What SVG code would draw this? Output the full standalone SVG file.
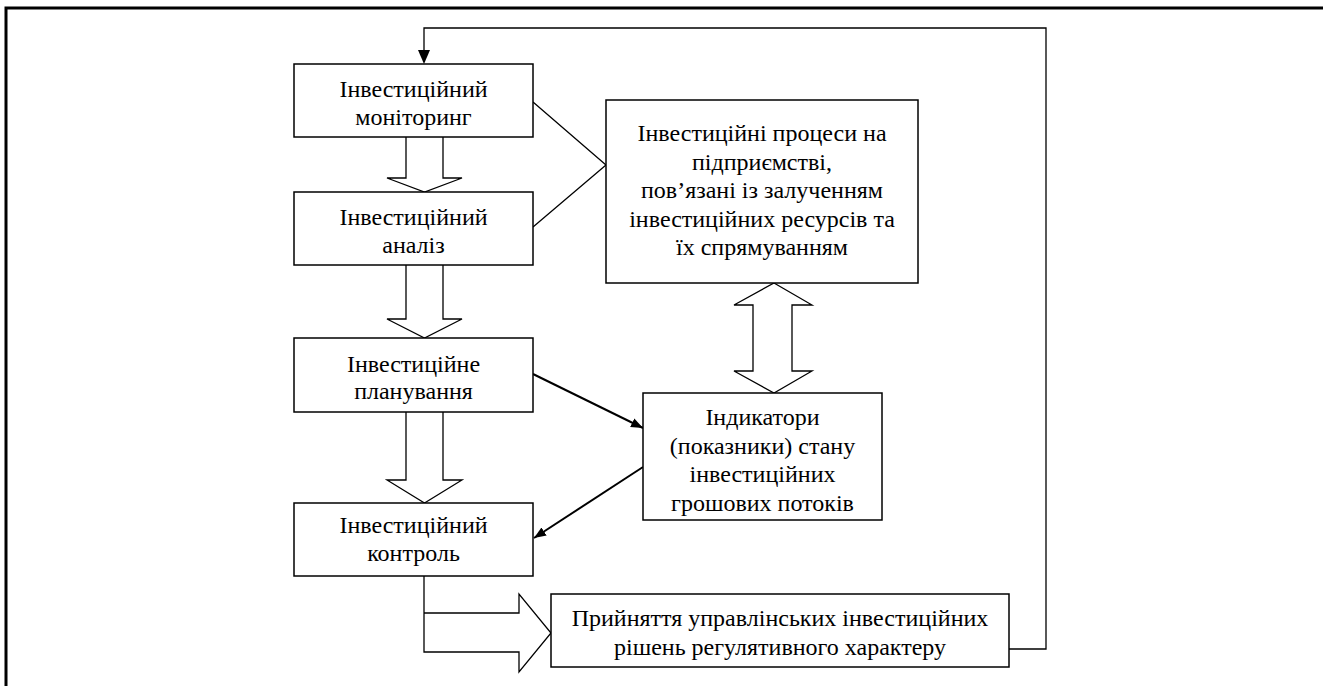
<svg xmlns="http://www.w3.org/2000/svg" width="1323" height="686" viewBox="0 0 1323 686">
<style>
.box{fill:#fff;stroke:#000;stroke-width:1.5}
.t{font-family:'Liberation Serif','Times New Roman','DejaVu Serif','Noto Serif',serif;font-size:24px;fill:#000;text-anchor:middle}
.ln{fill:none;stroke:#000;stroke-width:1.3}
.hol{fill:#fff;stroke:#000;stroke-width:1.3;stroke-linejoin:miter}
.ar{fill:none;stroke:#000;stroke-width:2}
</style>
<defs>
<marker id="ah2" viewBox="0 0 10 10" refX="10" refY="5" markerWidth="12" markerHeight="12" markerUnits="userSpaceOnUse" orient="auto">
<path d="M0,1 L10,5 L0,9 Z" fill="#000"/>
</marker>
</defs>
<rect width="1323" height="686" fill="#fff"/>
<path d="M6,690 L6,8 L1330,8" fill="none" stroke="#000" stroke-width="3"/>

<g id="connectors">
<path class="ln" d="M1009,649 L1046,649 L1046,28 L424,28 L424,52"/>
<path d="M418,50 L430,50 L424,64 Z" fill="#000"/>
<path class="ln" d="M533,102 L606,165 L533,227"/>
<path class="hol" d="M406,137 L406,178 L387,178 L424.5,192 L462,178 L443,178 L443,137"/>
<path class="hol" d="M406,265 L406,319 L387,319 L424.5,338 L462,319 L443,319 L443,265"/>
<path class="hol" d="M406,412 L406,480 L387,480 L424.5,503 L462,480 L443,480 L443,412"/>
<path class="hol" d="M774,283 L812,305 L792,305 L792,371 L812,371 L774,393 L734,371 L753,371 L753,305 L734,305 Z"/>
<path class="hol" d="M424,576 L424,652 L519,652 L519,672 L551,633 L519,594 L519,613 L424,613"/>
<line class="ar" x1="533" y1="374" x2="643" y2="428" marker-end="url(#ah2)"/>
<line class="ar" x1="643" y1="467" x2="534" y2="538" marker-end="url(#ah2)"/>
</g>

<g id="monitoring">
<rect class="box" x="294" y="64" width="239" height="73"/>
<text class="t" x="413.5" y="97">Інвестиційний</text>
<text class="t" x="413.5" y="125">моніторинг</text>
</g>
<g id="analysis">
<rect class="box" x="294" y="192" width="239" height="73"/>
<text class="t" x="413.5" y="225">Інвестиційний</text>
<text class="t" x="413.5" y="253">аналіз</text>
</g>
<g id="planning">
<rect class="box" x="294" y="338" width="239" height="74"/>
<text class="t" x="413.5" y="372">Інвестиційне</text>
<text class="t" x="413.5" y="399">планування</text>
</g>
<g id="control">
<rect class="box" x="294" y="503" width="239" height="73"/>
<text class="t" x="413.5" y="533">Інвестиційний</text>
<text class="t" x="413.5" y="561">контроль</text>
</g>
<g id="processes">
<rect class="box" x="606" y="100" width="312" height="183"/>
<text class="t" x="762" y="141">Інвестиційні процеси на</text>
<text class="t" x="762" y="169.5">підприємстві,</text>
<text class="t" x="762" y="198">пов’язані із залученням</text>
<text class="t" x="762" y="226.5">інвестиційних ресурсів та</text>
<text class="t" x="762" y="255">їх спрямуванням</text>
</g>
<g id="indicators">
<rect class="box" x="643" y="393" width="239" height="127"/>
<text class="t" x="762.5" y="425">Індикатори</text>
<text class="t" x="762.5" y="453.5">(показники) стану</text>
<text class="t" x="762.5" y="482">інвестиційних</text>
<text class="t" x="762.5" y="510.5">грошових потоків</text>
</g>
<g id="decisions">
<rect class="box" x="551" y="594" width="458" height="73"/>
<text class="t" x="780" y="626">Прийняття управлінських інвестиційних</text>
<text class="t" x="780" y="655">рішень регулятивного характеру</text>
</g>
</svg>
